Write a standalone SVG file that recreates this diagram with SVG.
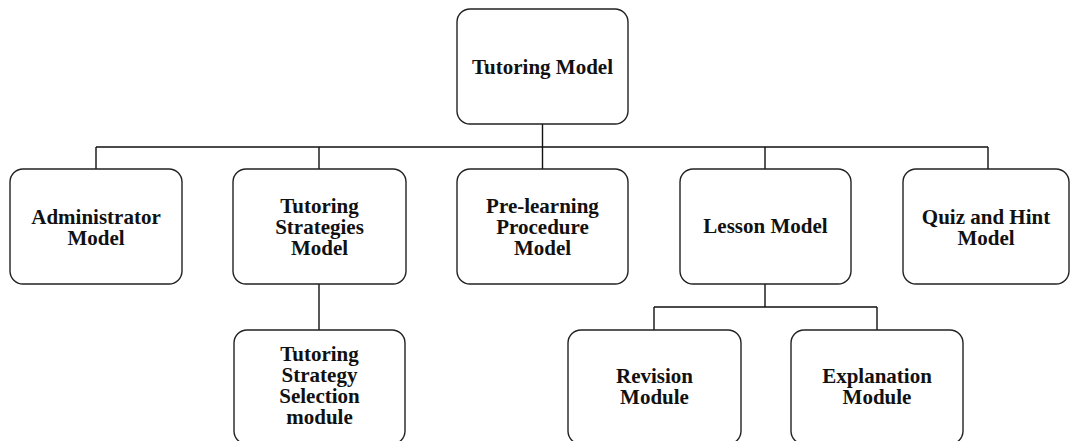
<svg xmlns="http://www.w3.org/2000/svg" width="1070" height="441" viewBox="0 0 1070 441">
  <style>
    .box { fill: #ffffff; stroke: #222222; stroke-width: 1.4; }
    .link { fill: none; stroke: #111111; stroke-width: 1.4; }
    .label { font-family: "Liberation Serif", "Times New Roman", serif; font-weight: bold; font-size: 21px; fill: #111111; text-anchor: middle; }
  </style>
  <rect width="1070" height="441" fill="#ffffff"/>

  <!-- tree connectors -->
  <g id="connectors">
    <path class="link" d="M542.5,124 V147 M96,147 H988 M96,147 V169 M319,147 V169 M542.5,147 V169 M765,147 V169 M988,147 V169"/>
    <path class="link" d="M319,284 V330"/>
    <path class="link" d="M765,284 V307 M654,307 H877 M654,307 V330 M877,307 V330"/>
  </g>

  <g id="tutoring-model">
    <rect class="box" x="457" y="9" width="171" height="115" rx="13"/>
    <text class="label" x="542.5" y="74">Tutoring Model</text>
  </g>

  <g id="administrator-model">
    <rect class="box" x="10" y="169" width="172" height="115" rx="13"/>
    <text class="label" x="96" y="224">Administrator</text>
    <text class="label" x="96" y="245">Model</text>
  </g>

  <g id="tutoring-strategies-model">
    <rect class="box" x="233" y="169" width="173" height="115" rx="13"/>
    <text class="label" x="319.5" y="213">Tutoring</text>
    <text class="label" x="319.5" y="234">Strategies</text>
    <text class="label" x="319.5" y="255">Model</text>
  </g>

  <g id="pre-learning-procedure-model">
    <rect class="box" x="457" y="169" width="171" height="115" rx="13"/>
    <text class="label" x="542.5" y="213">Pre-learning</text>
    <text class="label" x="542.5" y="234">Procedure</text>
    <text class="label" x="542.5" y="255">Model</text>
  </g>

  <g id="lesson-model">
    <rect class="box" x="680" y="169" width="171" height="115" rx="13"/>
    <text class="label" x="765.5" y="233">Lesson Model</text>
  </g>

  <g id="quiz-and-hint-model">
    <rect class="box" x="903" y="169" width="166" height="115" rx="13"/>
    <text class="label" x="986" y="224">Quiz and Hint</text>
    <text class="label" x="986" y="245">Model</text>
  </g>

  <g id="tutoring-strategy-selection-module">
    <rect class="box" x="234" y="330" width="171" height="114" rx="13"/>
    <text class="label" x="319.5" y="361">Tutoring</text>
    <text class="label" x="319.5" y="382">Strategy</text>
    <text class="label" x="319.5" y="403">Selection</text>
    <text class="label" x="319.5" y="424">module</text>
  </g>

  <g id="revision-module">
    <rect class="box" x="568" y="330" width="173" height="114" rx="13"/>
    <text class="label" x="654.5" y="383">Revision</text>
    <text class="label" x="654.5" y="404">Module</text>
  </g>

  <g id="explanation-module">
    <rect class="box" x="791" y="330" width="172" height="114" rx="13"/>
    <text class="label" x="877" y="383">Explanation</text>
    <text class="label" x="877" y="404">Module</text>
  </g>
</svg>
